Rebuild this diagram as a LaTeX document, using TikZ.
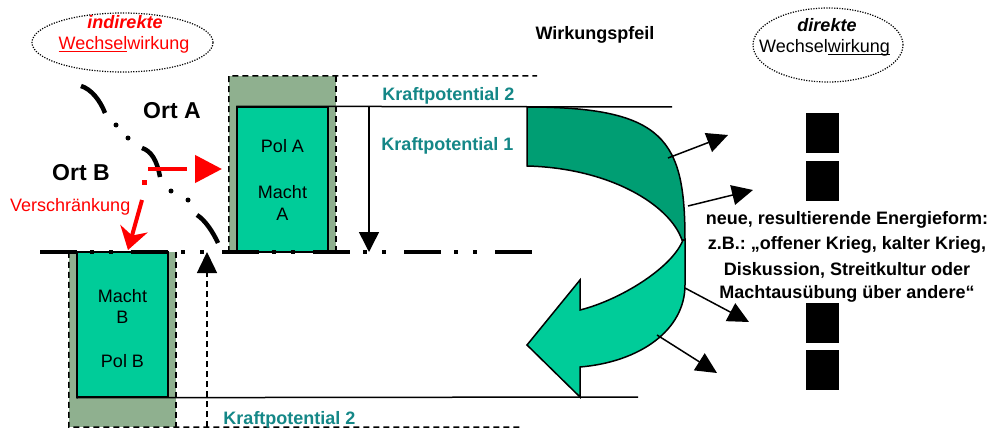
\documentclass[tikz,border=0pt]{standalone}
\usepackage{fontspec}
\setmainfont{Liberation Sans}
\usetikzlibrary{arrows.meta,shapes.geometric}
\definecolor{boxgreen}{RGB}{0,204,153}
\definecolor{darkgreen}{RGB}{0,158,115}
\definecolor{shadowgreen}{RGB}{143,176,143}
\definecolor{tealtext}{RGB}{20,135,135}
\newcommand{\ulx}[1]{\leavevmode\setbox0=\hbox{#1}\rlap{\rule[-2pt]{\wd0}{1.3pt}}\box0}
\frenchspacing
\begin{document}
\begin{tikzpicture}[x=1pt,y=-1pt,
  txt/.style={inner sep=0pt, anchor=base, font=\fontsize{18}{22}\selectfont},
  btxt/.style={txt, font=\fontsize{18}{22}\selectfont\bfseries},
  bitxt/.style={txt, font=\fontsize{18}{22}\selectfont\bfseries\itshape},
  orttxt/.style={inner sep=0pt, anchor=base west, font=\fontsize{23}{27}\selectfont\bfseries},
  kraft/.style={btxt, text=tealtext},
  polbox/.style={rectangle, draw=black, line width=1.5pt, fill=boxgreen, minimum width=91pt, minimum height=145pt, inner sep=0pt},
  shadowbox/.style={rectangle, fill=shadowgreen, draw=none, inner sep=0pt},
  edgedash/.style={line width=1.5pt, dash pattern=on 6pt off 4pt},
  thinline/.style={line width=1.5pt},
  dashdotline/.style={line width=4.5pt, dash pattern=on 37pt off 13pt on 4pt off 15pt on 4pt off 18pt},
  ortline/.style={line width=4.5pt},
  bubble/.style={ellipse, draw=black, line width=1.2pt, dash pattern=on 1.2pt off 1.4pt, inner sep=0pt},
  blackbar/.style={rectangle, fill=black, minimum width=33pt, minimum height=40pt, inner sep=0pt},
  tri/.style={-{Triangle[length=21pt,width=20pt]}}
]
\useasboundingbox (0,0) rectangle (997,428);

% shadows
\node[shadowbox, minimum width=107pt, minimum height=176pt] (shA) at (282.5,164) {};
\node[shadowbox, minimum width=107pt, minimum height=175pt] (shB) at (122.5,339.5) {};

% boxes
\node[polbox] (polA) at (282.5,179.5) {};
\node[polbox] (polB) at (122.5,324.5) {};

% dashed shadow edges
\coordinate (topdashend) at (537,76);
\coordinate (botdashend) at (520,427);
\draw[edgedash] (shA.south west) -- (shA.north west) -- (topdashend);
\draw[edgedash] (shA.north east) -- (shA.south east);
\draw[edgedash] (shB.north west) -- (shB.south west) -- (botdashend);
\draw[edgedash] (shB.north east) -- (shB.south east);

% potential lines
\coordinate (k2topend) at (672,107);
\coordinate (k2botend) at (638,397);
\draw[thinline] (polA.north west) -- (k2topend);
\draw[thinline] (polB.south west) -- (k2botend);

% texts in boxes
\node[txt] (tpa) at (282.5,153) {Pol A};
\node[txt] (tma) at (282.5,198) {Macht};
\node[txt] (taa) at (282.5,220) {A};
\node[txt] (tmb) at (122.5,302) {Macht};
\node[txt] (tbb) at (122.5,323) {B};
\node[txt] (tpb) at (122.5,367) {Pol B};

% potential labels
\node[kraft] (k2a) at (448.5,101) {Kraftpotential 2};
\node[kraft] (k1) at (447.5,150) {Kraftpotential 1};
\node[kraft] (k2b) at (289.5,424) {Kraftpotential 2};

% dash-dot base line
\coordinate (ddL) at (40,252);
\coordinate (ddR) at (533,252);
\draw[dashdotline] (ddL) -- (ddR);

% vertical arrows
\coordinate (dnS) at (369,107);
\coordinate (dnE) at (369,252);
\draw[thinline, -{Triangle[length=20pt,width=20pt]}] (dnS) -- (dnE);
\coordinate (upS) at (207,427);
\coordinate (upE) at (207,252);
\draw[edgedash, -{Triangle[length=21pt,width=20pt]}] (upS) -- (upE);

% Ort boundary
\draw[ortline] (81,86) .. controls (91,89) and (100,100) .. (105,113);
\fill (116,125) circle (2.5pt);
\fill (128,138) circle (2.5pt);
\draw[ortline] (142,148) .. controls (151,151) and (157,160) .. (160,177);
\fill (171,191) circle (2.5pt);
\fill (188,200) circle (2.5pt);
\draw[ortline] (197,215) .. controls (205,220) and (213,232) .. (218,243);

% red arrows
\coordinate (rhS) at (148,169);
\coordinate (rhE) at (222,169);
\draw[red, line width=4.5pt, dash pattern=on 39pt off 30pt, -{Triangle[length=27pt,width=27pt]}] (rhS) -- (rhE);
\node[rectangle, fill=red, minimum size=5pt, inner sep=0pt] (rdot) at (144,182) {};
\coordinate (rdS) at (142,200);
\coordinate (rdE) at (128,250);
\draw[red, line width=4pt, -{Stealth[length=22pt,width=28pt,inset=7pt]}] (rdS) -- (rdE);

% labels left
\node[orttxt] (ortA) at (143,118) {Ort A};
\node[orttxt] (ortB) at (52,180) {Ort B};
\node[txt, anchor=base west, text=red] (versch) at (10,211) {Verschränkung};
\node[btxt] (wirk) at (595,40) {Wirkungspfeil};

% bubbles
\node[bubble, minimum width=181pt, minimum height=59pt] (ind) at (122.5,42.5) {};
\node[bitxt, text=red] (indt) at (125,29) {indirekte};
\node[txt, text=red] (indw) at (124,50) {\ulx{Wechsel}wirkung};
\node[bubble, minimum width=150pt, minimum height=74pt] (dir) at (828,45) {};
\node[bitxt] (dirt) at (827,32) {direkte};
\node[txt] (dirw) at (824.5,53) {Wechsel\ulx{wirkung}};

% big curved arrow
\filldraw[fill=darkgreen, draw=black, line width=1.5pt]
  (527,107) .. controls (665,107) and (685,140) .. (685,240)
  -- (682,240) .. controls (670,205) and (610,168) .. (527,166) -- cycle;
\filldraw[fill=boxgreen, draw=black, line width=1.5pt]
  (683,240) -- (685,240) -- (685,285) .. controls (685,330) and (640,362) .. (580,367)
  -- (580,397) -- (527,345) -- (580,280) -- (580,310)
  .. controls (620,300) and (672,268) .. (683,240) -- cycle;

% radiating arrows
\coordinate (a1s) at (668,158); \coordinate (a1e) at (728,135);
\coordinate (a2s) at (688,206); \coordinate (a2e) at (753,190);
\coordinate (a3s) at (685,288); \coordinate (a3e) at (749,322);
\coordinate (a4s) at (657,335); \coordinate (a4e) at (717,373);
\draw[thinline, tri] (a1s) -- (a1e);
\draw[thinline, tri] (a2s) -- (a2e);
\draw[thinline, tri] (a3s) -- (a3e);
\draw[thinline, tri] (a4s) -- (a4e);

% black bars
\node[blackbar] (b1) at (822.5,133) {};
\node[blackbar] (b2) at (822.5,181) {};
\node[blackbar] (b3) at (822.5,323) {};
\node[blackbar] (b4) at (822.5,370) {};

% result text
\node[btxt] (n1) at (847,224) {neue, resultierende Energieform:};
\node[btxt] (n2) at (847,249) {z.B.: „offener Krieg, kalter Krieg,};
\node[btxt] (n3) at (847,275) {Diskussion, Streitkultur oder};
\node[btxt] (n4) at (847,298) {Machtausübung über andere“};
\end{tikzpicture}
\end{document}
